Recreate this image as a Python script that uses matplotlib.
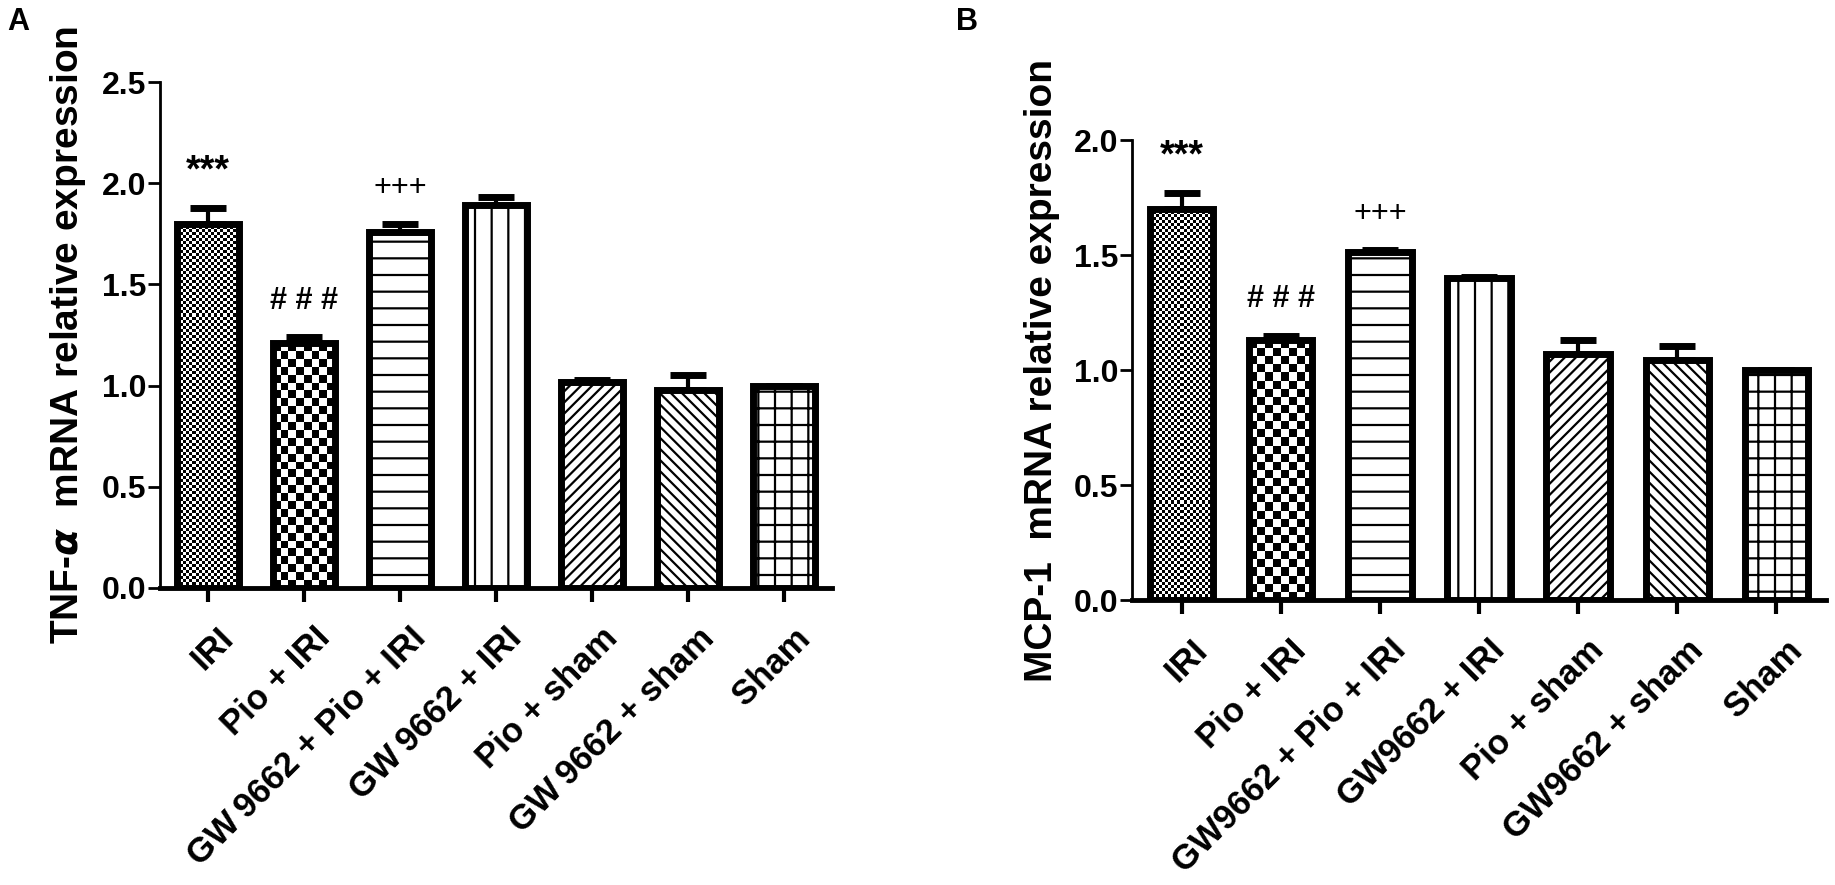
import numpy as np
import matplotlib
matplotlib.use('Agg')
import matplotlib.pyplot as plt
import matplotlib.transforms as mtransforms

plt.rcParams['font.family'] = ['Liberation Sans', 'DejaVu Sans']
plt.rcParams['font.weight'] = 'bold'
plt.rcParams['hatch.linewidth'] = 1.6

#-------------------------
# data
groups_a = ['IRI', 'Pio + IRI', 'GW\u20099662 + Pio + IRI', 'GW\u20099662 + IRI',
            'Pio + sham', 'GW\u20099662 + sham', 'Sham']
groups_b = ['IRI', 'Pio + IRI', 'GW9662 + Pio + IRI', 'GW9662 + IRI',
            'Pio + sham', 'GW9662 + sham', 'Sham']

tnf_mean = [1.80, 1.21, 1.76, 1.89, 1.02, 0.98, 1.00]
tnf_sem = [0.08, 0.03, 0.04, 0.04, 0.01, 0.07, 0.0]

mcp_mean = [1.70, 1.13, 1.515, 1.40, 1.07, 1.045, 1.00]
mcp_sem = [0.07, 0.02, 0.006, 0.006, 0.06, 0.06, 0.0]

marks = ['***', '# # #', '+++', '', '', '', '']

# fill style of each group: ('img', square px) = checkerboard, otherwise a hatch
fills = [('img', 3), ('img', 8), '-', '|', '///', '\\\\\\', '+']

#-------------------------
fig = plt.figure(figsize=(18.35, 8.85), dpi=100)
ax_a = fig.add_axes([0.0872, 0.3356, 0.3662, 0.5717])
ax_b = fig.add_axes([0.6169, 0.3220, 0.3782, 0.5198])


def checker(ax, patch, sq):
    # checkerboard image clipped to the bar
    x0, y0 = patch.get_x(), patch.get_y()
    w, h = patch.get_width(), patch.get_height()
    p0 = ax.transData.transform((x0, y0))
    p1 = ax.transData.transform((x0 + w, y0 + h))
    nx = max(1, int(round(abs(p1[0] - p0[0]) / sq)))
    ny = max(1, int(round(abs(p1[1] - p0[1]) / sq)))
    img = (np.add.outer(np.arange(ny), np.arange(nx)) % 2).astype(float)
    im = ax.imshow(img, cmap='gray', extent=(x0, x0 + w, y0, y0 + h),
                   interpolation='nearest', aspect='auto', zorder=1.5)
    im.set_clip_path(patch)


def panel(ax, labels, means, sems, ymax, ylabel):
    x = np.arange(len(labels))
    ax.set_xlim(-0.5, len(labels) - 0.5)
    ax.set_ylim(0, ymax)
    ax.errorbar(x, means, yerr=[np.zeros(len(sems)), sems], fmt='none',
                ecolor='black', elinewidth=3, capsize=13, capthick=5, zorder=1)
    for i in range(len(labels)):
        f = fills[i]
        if isinstance(f, tuple):
            b = ax.bar(x[i], means[i], width=0.64, facecolor='none',
                       edgecolor='black', linewidth=5, zorder=2)[0]
            checker(ax, b, f[1])
        else:
            ax.bar(x[i], means[i], width=0.64, facecolor='white', hatch=f,
                   edgecolor='black', linewidth=5, zorder=2)
        if marks[i]:
            big = marks[i] == '***'
            ax.annotate(marks[i], (x[i], means[i] + sems[i]), xytext=(0, 26),
                        textcoords='offset points', ha='center', va='center',
                        fontsize=27 if big else 22,
                        fontweight='normal' if marks[i] == '+++' else 'bold')

    for s in ['top', 'right']:
        ax.spines[s].set_visible(False)
    ax.spines['left'].set_linewidth(2)
    ax.spines['bottom'].set_linewidth(3.5)
    ticks = np.arange(0, ymax + 0.01, 0.5)
    ax.set_yticks(ticks)
    ax.set_yticklabels(['%.1f' % v for v in ticks])
    ax.tick_params(axis='y', length=9, width=2, labelsize=23, pad=1)
    ax.tick_params(axis='x', length=10, width=3, labelsize=25, pad=14)
    ax.set_xticks(x)
    ax.set_xticklabels(labels, rotation=45, ha='right', rotation_mode='anchor')
    shift = mtransforms.ScaledTranslation(0.09, 0, fig.dpi_scale_trans)
    for lab in ax.get_xticklabels():
        lab.set_transform(lab.get_transform() + shift)
    ax.set_ylabel(ylabel, fontsize=28, fontweight='bold', labelpad=10)


panel(ax_a, groups_a, tnf_mean, tnf_sem, 2.5, r'TNF-$\alpha$  mRNA relative expression')
panel(ax_b, groups_b, mcp_mean, mcp_sem, 2.0, 'MCP-1  mRNA relative expression')

fig.text(0.004, 0.992, 'A', fontsize=22, fontweight='bold', ha='left', va='top')
fig.text(0.521, 0.992, 'B', fontsize=22, fontweight='bold', ha='left', va='top')

fig.savefig('out.png', dpi=100, facecolor='white')
